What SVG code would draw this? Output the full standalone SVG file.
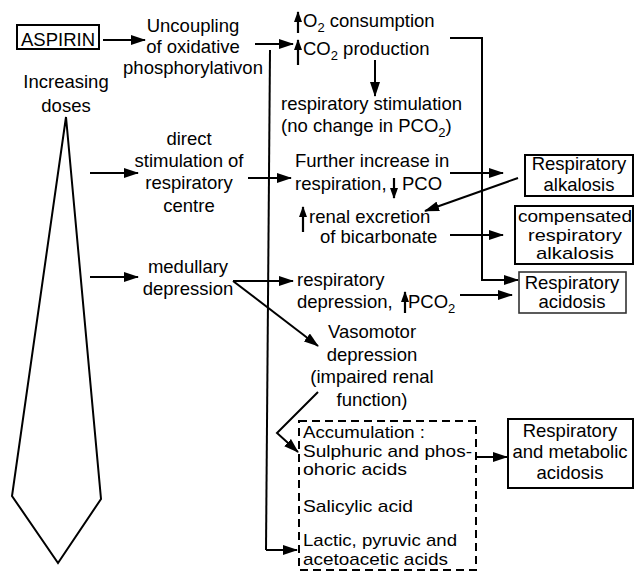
<svg xmlns="http://www.w3.org/2000/svg" width="639" height="572" viewBox="0 0 639 572">
<defs>
<style>
text{font-family:"Liberation Sans",Arial,sans-serif;font-size:18.5px;fill:#000}
.m{text-anchor:middle}
.sub{font-size:13px}
.s{font-size:17px}
.ln{fill:none;stroke:#000;stroke-width:2}
.box{fill:#fff;stroke:#000;stroke-width:2}
.dash{fill:none;stroke:#000;stroke-width:2;stroke-dasharray:8 5}
.arr{fill:none;stroke:#000;stroke-width:2;marker-end:url(#ah)}
.sym{fill:none;stroke:#000;stroke-width:2.2;marker-end:url(#sh)}
</style>
<marker id="ah" markerUnits="userSpaceOnUse" markerWidth="15" markerHeight="10" refX="14" refY="5" orient="auto"><path d="M0,0 L15,5 L0,10 z" fill="#000"/></marker>
<marker id="sh" markerUnits="userSpaceOnUse" markerWidth="11" markerHeight="8" refX="10" refY="4" orient="auto"><path d="M0,0 L11,4 L0,8 z" fill="#000"/></marker>
</defs>

<g id="tie"><polygon class="ln" points="66,117 101,499 58,563 12,496"/></g>
<g id="increasing"><text class="m" x="66" y="88">Increasing</text><text class="m" x="66" y="112">doses</text></g>

<g id="aspirin"><rect class="box" x="17" y="25" width="82" height="24"/><text x="21" y="46" font-size="18">ASPIRIN</text></g>

<g id="uncoupling"><text class="m" x="193" y="32">Uncoupling</text><text class="m" x="193" y="53">of oxidative</text><text class="m" x="193" y="74">phosphorylativon</text></g>

<g id="o2co2">
<path class="sym" d="M298,33 V12"/>
<text x="303" y="27">O<tspan class="sub" dy="5">2</tspan><tspan dy="-5"> consumption</tspan></text>
<path class="sym" d="M298,65 V40"/>
<text x="303" y="55">CO<tspan class="sub" dy="5">2</tspan><tspan dy="-5"> production</tspan></text>
</g>

<g id="resp-stim"><text x="281" y="110">respiratory stimulation</text><text x="281" y="132">(no change in PCO<tspan class="sub" dy="5">2</tspan><tspan dy="-5">)</tspan></text></g>

<g id="direct"><text class="m" x="189" y="145">direct</text><text class="m" x="189" y="167">stimulation of</text><text class="m" x="189" y="189">respiratory</text><text class="m" x="189" y="212">centre</text></g>

<g id="further"><text x="295" y="167">Further increase in</text><text x="295" y="190">respiration,</text><path class="sym" d="M394,178 V198"/><text x="402" y="190">PCO</text></g>

<g id="renal"><path class="sym" d="M303,232 V207"/><text x="309" y="223">renal excretion</text><text x="320" y="243">of bicarbonate</text></g>

<g id="resp-alk"><rect class="box" x="525" y="155" width="108" height="41"/><text class="m" x="579" y="170">Respiratory</text><text class="m" x="579" y="191">alkalosis</text></g>

<g id="comp-alk"><rect class="box" x="515" y="206" width="118" height="58"/><text class="m s" x="575" y="222" textLength="114" lengthAdjust="spacingAndGlyphs">compensated</text><text class="m s" x="575" y="241" textLength="94" lengthAdjust="spacingAndGlyphs">respiratory</text><text class="m s" x="575" y="259" textLength="78" lengthAdjust="spacingAndGlyphs">alkalosis</text></g>

<g id="medullary"><text class="m" x="188" y="273">medullary</text><text class="m" x="188" y="295">depression</text></g>

<g id="resp-dep"><text x="297" y="286">respiratory</text><text x="297" y="308">depression,</text><path class="sym" d="M405,313 V292"/><text x="408" y="308">PCO<tspan class="sub" dy="5">2</tspan></text></g>

<g id="resp-acid"><rect x="519" y="272" width="107" height="41" fill="#fff" stroke="#333" stroke-width="1.6"/><text class="m" x="572" y="289">Respiratory</text><text class="m" x="572" y="308">acidosis</text></g>

<g id="vasomotor"><text class="m" x="372" y="338">Vasomotor</text><text class="m" x="372" y="361">depression</text><text class="m" x="372" y="383">(impaired renal</text><text class="m" x="372" y="406">function)</text></g>

<g id="accumulation"><rect class="dash" x="299" y="421" width="177" height="149"/>
<text class="s" x="303" y="438" textLength="122" lengthAdjust="spacingAndGlyphs">Accumulation :</text>
<text class="s" x="303" y="457" textLength="169" lengthAdjust="spacingAndGlyphs">Sulphuric and phos-</text>
<text class="s" x="303" y="475" textLength="104" lengthAdjust="spacingAndGlyphs">ohoric acids</text>
<text class="s" x="303" y="512" textLength="110" lengthAdjust="spacingAndGlyphs">Salicylic acid</text>
<text class="s" x="303" y="546" textLength="154" lengthAdjust="spacingAndGlyphs">Lactic, pyruvic and</text>
<text class="s" x="303" y="565" textLength="145" lengthAdjust="spacingAndGlyphs">acetoacetic acids</text></g>

<g id="resp-met"><rect class="box" x="508" y="419" width="125" height="69"/><text class="m" x="570" y="437">Respiratory</text><text class="m" x="570" y="458">and metabolic</text><text class="m" x="570" y="479">acidosis</text></g>

<g id="connectors">
<path class="arr" d="M103,40 H145"/>
<path class="arr" d="M255,44 H293"/>
<path class="ln" d="M270,50 L266,550"/>
<path class="arr" d="M266,550 H297"/>
<path class="arr" d="M375,60 V96"/>
<path class="arr" d="M450,38 H482 V280 H518"/>
<path class="arr" d="M90,173 H138"/>
<path class="arr" d="M248,178 H291"/>
<path class="arr" d="M450,173 H503"/>
<path class="arr" d="M518,178 L425,211"/>
<path class="arr" d="M450,235 H503"/>
<path class="arr" d="M90,277 H138"/>
<path class="arr" d="M233,281 H293"/>
<path class="arr" d="M233,281 L318,346"/>
<path class="arr" d="M460,295 H512"/>
<path class="arr" d="M318,392 L277,433 L298,452"/>
<path class="arr" d="M477,457 H507"/>
</g>
</svg>
